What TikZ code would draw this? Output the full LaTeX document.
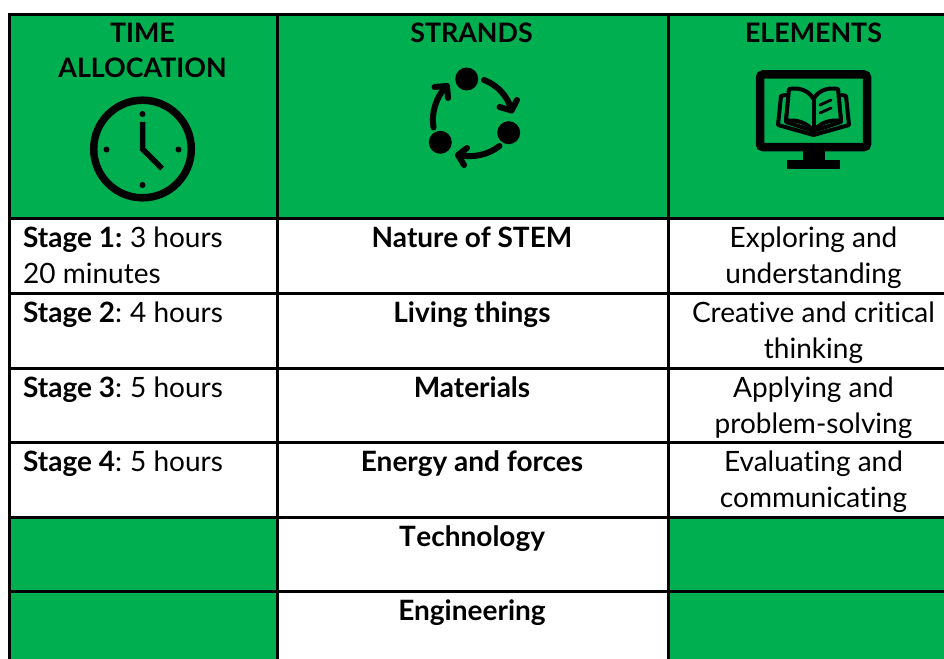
\documentclass[tikz,border=0pt]{standalone}
\usepackage{fontspec}
\setmainfont{Lato}[Ligatures=NoCommon]
\usetikzlibrary{arrows.meta}
\definecolor{hdrgreen}{HTML}{00AF50}
\tikzset{
  gridline/.style={line width=3pt,black},
  greencell/.style={fill=hdrgreen,draw=none},
  celltext/.style={inner sep=0pt,anchor=base,font=\fontsize{28pt}{30pt}\selectfont,text=black},
  headtext/.style={inner sep=0pt,anchor=base,font=\fontsize{26.8pt}{30pt}\selectfont\bfseries,text=black},
  lefttext/.style={celltext,anchor=base west},
  cyclearrow/.style={line width=6pt,black,line cap=round,line join=round},
  bookline/.style={line width=4pt,black,line join=round,line cap=round,fill=hdrgreen},
}
\begin{document}
\begin{tikzpicture}[x=1pt,y=-1pt]
\useasboundingbox (0,0) rectangle (944,658);
\begin{scope}
\clip (0,0) rectangle (944,658);
% fills
\fill[greencell] (9.5,15) rectangle (950,218);
\fill[greencell] (9.5,517) rectangle (277,660);
\fill[greencell] (668,517) rectangle (950,660);
% grid
\draw[gridline] (950,15) -- (9.5,15) -- (9.5,660);
\draw[gridline] (277,15) -- (277,660);
\draw[gridline] (668,15) -- (668,660);
\foreach \yy in {218,293,368,442,517,591} \draw[gridline] (9.5,\yy) -- (950,\yy);
\end{scope}
% headers
\node[headtext] (h1a) at (142.5,42.8) {TIME};
\node[headtext] (h1b) at (142.5,77.8) {ALLOCATION};
\node[headtext] (h2) at (471.5,42.8) {STRANDS};
\node[headtext] (h3) at (813.5,42.8) {ELEMENTS};
% column 1
\node[lefttext] (s1a) at (23,247.5) {\textbf{Stage 1:}\hspace{-1.8pt} 3 hours};
\node[lefttext] (s1b) at (23,283.5) {20 minutes};
\node[lefttext] (s2) at (23,322.5) {\textbf{Stage 2}:\hspace{-1.5pt} 4 hours};
\node[lefttext] (s3) at (23,397.5) {\textbf{Stage 3}:\hspace{-1.5pt} 5 hours};
\node[lefttext] (s4) at (23,471.5) {\textbf{Stage 4}:\hspace{-1.5pt} 5 hours};
% column 2
\node[celltext] (st1) at (472,247.5) {\bfseries Nature of STEM};
\node[celltext] (st2) at (472,322.5) {\bfseries Living things};
\node[celltext] (st3) at (472,397.5) {\bfseries Materials};
\node[celltext] (st4) at (472,471.5) {\bfseries Energy and forces};
\node[celltext] (st5) at (472,546.5) {\bfseries T\kern0.6pt echnology};
\node[celltext] (st6) at (472,620.8) {\bfseries Engineering};
% column 3
\node[celltext] (e1a) at (813.5,247.5) {Exploring and};
\node[celltext] (e1b) at (813.5,283.5) {understanding};
\node[celltext] (e2a) at (813.5,322.5) {Creative and critical};
\node[celltext] (e2b) at (813.5,358.5) {thinking};
\node[celltext] (e3a) at (813.5,397.5) {Applying and};
\node[celltext] (e3b) at (813.5,433.5) {problem-solving};
\node[celltext] (e4a) at (813.5,471.5) {Evaluating and};
\node[celltext] (e4b) at (813.5,507.5) {communicating};
% clock
\draw[black,line width=7.5pt] (142.5,149) circle (48.8);
\foreach \px/\py in {142.5/114,106.5/149.5,178.5/149.5,142.5/185} \fill[black] (\px,\py) circle (3);
\draw[line width=5.5pt,black,line join=miter] (142.5,122) -- (142.5,149) -- (162,168.5);
% cycle
\fill[black] (466.7,79) circle (11.5);
\fill[black] (508.7,132.7) circle (11.5);
\fill[black] (440.3,142.3) circle (11.5);
\draw[cyclearrow] (484,80) .. controls (497,85) and (507,95) .. (511.5,110);
\draw[cyclearrow] (499.5,107) -- (511.5,110.5) -- (517,100);
\draw[cyclearrow] (499.5,146) .. controls (488,155) and (473,158) .. (459,155);
\draw[cyclearrow] (467,148) -- (458,155) -- (464,165);
\draw[cyclearrow] (433.5,127.5) .. controls (431,113) and (436,97) .. (446.5,86);
\draw[cyclearrow] (434.5,87) -- (447,86) -- (448,98);
% monitor
\draw[black,line width=8.5pt,rounded corners=3pt] (760,74.5) rectangle (867,147);
\fill[black] (803.3,150) rectangle (825,160);
\fill[black] (787.3,160) rectangle (840,169);
% book
\draw[bookline] (785,95) -- (781,96) -- (778,125) -- (813.5,135) -- (849,125) -- (846,96) -- (842,95);
\draw[bookline] (789,91) -- (786,122) -- (813.5,131) -- (841,122) -- (838,91);
\draw[bookline] (789,89) .. controls (800,87) and (809,91) .. (813.5,99) .. controls (818,91) and (827,87) .. (838,89) -- (841,121) .. controls (830,119) and (820,123) .. (813.5,131) .. controls (807,123) and (797,119) .. (786,121) -- cycle;
\draw[bookline] (813.5,99) -- (813.5,131);
\draw[black,line width=2.8pt,line cap=round] (820,105) -- (831,100);
\draw[black,line width=2.8pt,line cap=round] (820,113) -- (831,108);
\end{tikzpicture}
\end{document}
